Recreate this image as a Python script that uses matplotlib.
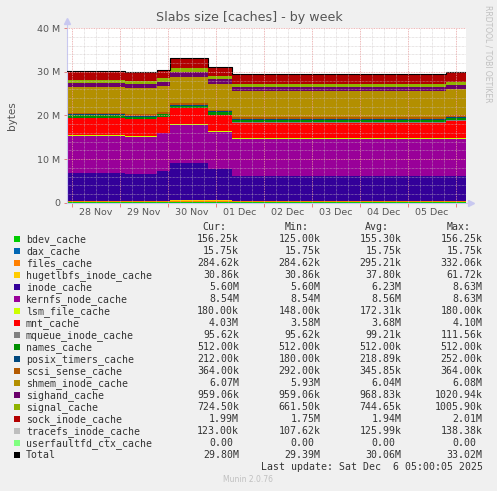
import matplotlib
matplotlib.use("Agg")
import matplotlib.pyplot as plt
import numpy as np

# segment start times in days from 28 Nov 00:00, last entry is the graph end
seg_t = [-0.098, 1.11, 1.776, 2.036, 2.837, 3.337, 7.79, 8.208]

# slab sizes in M per segment
bdev_cache = [0.156, 0.156, 0.125, 0.156, 0.156, 0.156, 0.156]
dax_cache = [0.016, 0.016, 0.016, 0.016, 0.016, 0.016, 0.016]
files_cache = [0.285, 0.285, 0.285, 0.332, 0.31, 0.285, 0.285]
hugetlbfs_inode_cache = [0.031, 0.031, 0.0617, 0.031, 0.031, 0.031, 0.031]
inode_cache = [6.3, 6.05, 6.8, 8.63, 7.25, 5.6, 5.6]
kernfs_node_cache = [8.54, 8.54, 8.6, 8.63, 8.54, 8.54, 8.54]
lsm_file_cache = [0.18, 0.148, 0.16, 0.148, 0.18, 0.18, 0.18]
mnt_cache = [3.9, 3.9, 3.6, 3.7, 3.6, 3.58, 4.03]
mqueue_inode_cache = [0.096, 0.096, 0.11, 0.112, 0.096, 0.096, 0.096]
names_cache = [0.512, 0.512, 0.512, 0.512, 0.512, 0.512, 0.512]
posix_timers_cache = [0.22, 0.22, 0.18, 0.252, 0.24, 0.212, 0.212]
scsi_sense_cache = [0.31, 0.31, 0.292, 0.33, 0.35, 0.364, 0.364]
shmem_inode_cache = [6.0, 6.0, 5.93, 6.08, 6.05, 6.07, 6.07]
sighand_cache = [0.959, 0.959, 1.0, 1.021, 0.959, 0.959, 0.959]
signal_cache = [0.70, 0.6615, 0.85, 1.006, 0.8, 0.7245, 0.7245]
sock_inode_cache = [1.95, 1.95, 1.75, 2.01, 2.0, 1.99, 1.99]
tracefs_inode_cache = [0.123, 0.123, 0.1076, 0.138, 0.13, 0.123, 0.123]
userfaultfd_ctx_cache = [0, 0, 0, 0, 0, 0, 0]

series = [bdev_cache, dax_cache, files_cache, hugetlbfs_inode_cache, inode_cache,
          kernfs_node_cache, lsm_file_cache, mnt_cache, mqueue_inode_cache,
          names_cache, posix_timers_cache, scsi_sense_cache, shmem_inode_cache,
          sighand_cache, signal_cache, sock_inode_cache, tracefs_inode_cache,
          userfaultfd_ctx_cache]

labels = ["bdev_cache", "dax_cache", "files_cache", "hugetlbfs_inode_cache",
          "inode_cache", "kernfs_node_cache", "lsm_file_cache", "mnt_cache",
          "mqueue_inode_cache", "names_cache", "posix_timers_cache",
          "scsi_sense_cache", "shmem_inode_cache", "sighand_cache",
          "signal_cache", "sock_inode_cache", "tracefs_inode_cache",
          "userfaultfd_ctx_cache", "Total"]
colors = ["#00CC00", "#0066B3", "#FF8000", "#FFCC00", "#330099", "#990099",
          "#CCFF00", "#FF0000", "#808080", "#008F00", "#00487D", "#B35A00",
          "#B38F00", "#6B006B", "#8FB300", "#B30000", "#BEBEBE", "#80FF80",
          "#000000"]

cur = ["156.25k", "15.75k", "284.62k", "30.86k", "5.60M", "8.54M", "180.00k",
       "4.03M", "95.62k", "512.00k", "212.00k", "364.00k", "6.07M", "959.06k",
       "724.50k", "1.99M", "123.00k", "0.00 ", "29.80M"]
mins = ["125.00k", "15.75k", "284.62k", "30.86k", "5.60M", "8.54M", "148.00k",
        "3.58M", "95.62k", "512.00k", "180.00k", "292.00k", "5.93M", "959.06k",
        "661.50k", "1.75M", "107.62k", "0.00 ", "29.39M"]
avgs = ["155.30k", "15.75k", "295.21k", "37.80k", "6.23M", "8.56M", "172.31k",
        "3.68M", "99.21k", "512.00k", "218.89k", "345.85k", "6.04M", "968.83k",
        "744.65k", "1.94M", "125.99k", "0.00 ", "30.06M"]
maxs = ["156.25k", "15.75k", "332.06k", "61.72k", "8.63M", "8.63M", "180.00k",
        "4.10M", "111.56k", "512.00k", "252.00k", "364.00k", "6.08M", "1020.94k",
        "1005.90k", "2.01M", "138.38k", "0.00 ", "33.02M"]

day_labels = ["28 Nov", "29 Nov", "30 Nov", "01 Dec", "02 Dec", "03 Dec",
              "04 Dec", "05 Dec"]

W, H = 497, 491
fig = plt.figure(figsize=(W / 100, H / 100), dpi=100)
fig.patch.set_facecolor("#F0F0F0")

def fx(px):
    return px / W

def fy(py):
    return 1 - py / H

ax = fig.add_axes([fx(67), fy(202.7), fx(399), 174.4 / H])
ax.set_facecolor("white")

x = np.array(seg_t)
base = np.zeros(len(seg_t))
for vals, col in zip(series, colors):
    v = np.array(vals + [vals[-1]], dtype=float)
    ax.fill_between(x, base, base + v, step="post", color=col, lw=0, zorder=2)
    base = base + v
ax.step(x, base, where="post", color="black", lw=0.8, zorder=4)

ax.set_xlim(seg_t[0], seg_t[-1])
ax.set_ylim(0, 40)

# grid drawn over the areas like rrdtool does
for h in np.arange(0, 8.25, 0.25):
    if abs(h - round(h)) < 1e-6:
        ax.axvline(h, color="#E8A0A0", lw=0.6, ls=(0, (1, 1)), zorder=5)
    else:
        ax.axvline(h, color="#C8C0C0", lw=0.5, ls=(0, (1, 1)), alpha=0.8, zorder=5)
for yv in np.arange(2, 41, 2):
    if yv % 10 == 0:
        ax.axhline(yv, color="#E8A0A0", lw=0.6, ls=(0, (1, 1)), zorder=5)
    else:
        ax.axhline(yv, color="#C8C0C0", lw=0.5, ls=(0, (1, 1)), alpha=0.8, zorder=5)

ax.set_yticks([0, 10, 20, 30, 40], ["0", "10 M", "20 M", "30 M", "40 M"])
ax.set_xticks(range(0, 9))
ax.set_xticklabels([])
ax.set_xticks(np.arange(0.5, 8, 1), day_labels, minor=True)
ax.tick_params(axis="x", which="major", length=3, color="#E07070", width=0.6)
ax.tick_params(axis="x", which="minor", length=0, labelsize=6.8,
               labelcolor="#555555", pad=4)
ax.tick_params(axis="y", length=2, color="#E07070", width=0.6, labelsize=6.8,
               labelcolor="#555555", pad=3)
for s in ["top", "right"]:
    ax.spines[s].set_visible(False)
for s in ["left", "bottom"]:
    ax.spines[s].set_color("#C8C8F0")
    ax.spines[s].set_linewidth(0.8)
ax.spines["left"].set_bounds(0, 41.5)
ax.spines["bottom"].set_bounds(seg_t[0], seg_t[-1] + 0.1)
ax.plot([0], [1.04], marker="^", ms=4, color="#C8C8F0", transform=ax.transAxes,
        clip_on=False)
ax.plot([1.012], [0], marker=">", ms=4, color="#C8C8F0", transform=ax.transAxes,
        clip_on=False)

ax.set_ylabel("bytes", fontsize=7.5, color="#555555", labelpad=14)
fig.text(fx(249), fy(18), "Slabs size [caches] - by week", ha="center",
         va="center", fontsize=9.1, color="#555555")
fig.text(fx(488), fy(5), "RRDTOOL / TOBI OETIKER", rotation=270, ha="center",
         va="top", fontsize=5.5, color="#C0C0C0")

# legend
mono = "DejaVu Sans Mono"
fsz = 7.1
cw = 5.9
cols_right = [239, 320.7, 401.7, 482.7]
heads = ["Cur:", "Min:", "Avg:", "Max:"]
for xr, hd in zip(cols_right, heads):
    fig.text(fx(xr - 12.5), fy(226.7), hd, ha="right", va="center",
             family=mono, fontsize=fsz, color="#333333")
for i, lab in enumerate(labels):
    yy = 239.3 + 12.0 * i
    fig.patches.append(plt.Rectangle((fx(14), fy(yy + 3)), fx(6), 6 / H,
                                     transform=fig.transFigure,
                                     color=colors[i], lw=0))
    fig.text(fx(26), fy(yy), lab, ha="left", va="center", family=mono,
             fontsize=fsz, color="#333333")
    for xr, vals in zip(cols_right, [cur, mins, avgs, maxs]):
        s = vals[i]
        shift = cw if s.endswith(" ") else 0
        fig.text(fx(xr - shift), fy(yy), s.strip(), ha="right", va="center",
                 family=mono, fontsize=fsz, color="#333333")

fig.text(fx(482.7), fy(467.3), "Last update: Sat Dec  6 05:00:05 2025",
         ha="right", va="center", family=mono, fontsize=fsz, color="#333333")
fig.text(fx(248), fy(480), "Munin 2.0.76", ha="center", va="center",
         fontsize=5.5, color="#C0C0C0")

fig.savefig("out.png", dpi=100, facecolor=fig.get_facecolor())
